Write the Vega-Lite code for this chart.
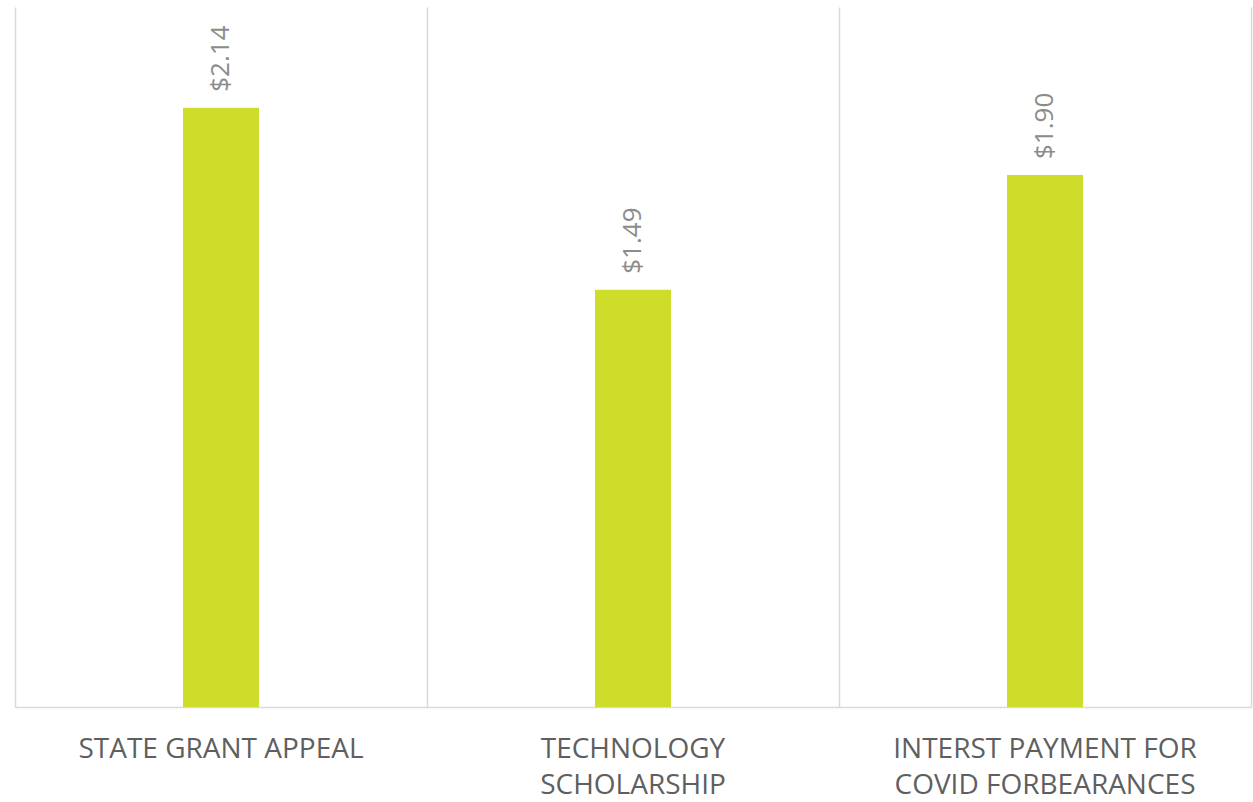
{
  "$schema": "https://vega.github.io/schema/vega-lite/v6.json",
  "width": 1236,
  "height": 700,
  "autosize": {"type": "none"},
  "padding": {"left": 15, "top": 7, "right": 2, "bottom": 95},
  "background": "#ffffff",
  "config": {"view": {"stroke": null}},
  "data": {
    "values": [
      {"category": "STATE GRANT APPEAL", "value": 2.14},
      {"category": "TECHNOLOGY SCHOLARSHIP", "value": 1.49},
      {"category": "INTERST PAYMENT FOR COVID FORBEARANCES", "value": 1.90}
    ]
  },
  "encoding": {
    "x": {
      "field": "category",
      "type": "nominal",
      "sort": null,
      "scale": {"paddingInner": 0, "paddingOuter": 0},
      "axis": {
        "title": null,
        "grid": true,
        "bandPosition": 0,
        "gridColor": "#d9d9d9",
        "gridWidth": 1.5,
        "domainColor": "#d9d9d9",
        "domainWidth": 1.5,
        "ticks": false,
        "labelAngle": 0,
        "labelPadding": 28,
        "labelBaseline": "top",
        "labelFont": "Open Sans",
        "labelFontSize": 28,
        "labelColor": "#5f5f5f",
        "labelLineHeight": 36,
        "labelLimit": 0,
        "labelExpr": "datum.value == 'TECHNOLOGY SCHOLARSHIP' ? ['TECHNOLOGY', 'SCHOLARSHIP'] : datum.value == 'INTERST PAYMENT FOR COVID FORBEARANCES' ? ['INTERST PAYMENT FOR', 'COVID FORBEARANCES'] : datum.value"
      }
    },
    "y": {
      "field": "value",
      "type": "quantitative",
      "scale": {"domain": [0, 2.5]},
      "axis": {
        "orient": "right",
        "title": null,
        "domain": true,
        "domainColor": "#d9d9d9",
        "domainWidth": 1.5,
        "ticks": false,
        "labels": false,
        "grid": false
      }
    }
  },
  "layer": [
    {"mark": {"type": "bar", "color": "#cedd2a", "width": {"band": 0.1845}}},
    {
      "mark": {
        "type": "text",
        "angle": -90,
        "align": "left",
        "baseline": "middle",
        "dx": 16,
        "font": "Open Sans",
        "fontSize": 26,
        "color": "#8c8c8c"
      },
      "encoding": {"text": {"field": "value", "type": "quantitative", "format": "$.2f"}}
    }
  ]
}
